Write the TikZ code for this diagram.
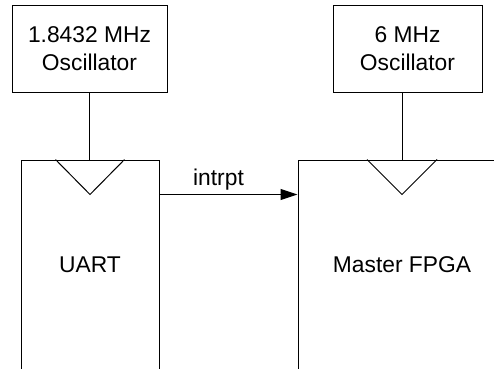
\documentclass[tikz,border=0pt]{standalone}
\usepackage{fontspec}
\setmainfont{Liberation Sans}
\usetikzlibrary{arrows.meta}
\begin{document}
\begin{tikzpicture}[x=1pt,y=-1pt,line width=1pt,
  lbl/.style={font=\fontsize{22.8}{27.4}\selectfont},
  box/.style={lbl,draw,rectangle,inner sep=0pt,align=center}]
\clip(0,0)rectangle(494,368);
%oscillators
\node[box,minimum width=155pt,minimum height=87pt](osca)at(89.5,48.5){1.8432 MHz\\Oscillator};
\node[box,minimum width=149pt,minimum height=87pt](oscb)at(407.5,48.5){6 MHz\\Oscillator};
%chips
\node[box,minimum width=138pt,minimum height=210pt](uart)at(90,265){UART};
\node[box,minimum width=208pt,minimum height=210pt](fpga)at(402,265){Master FPGA};
%clock inputs
\draw([xshift=-34.5pt]uart.north)--++(34.5,35)--++(34.5,-35);
\draw([xshift=-35pt]fpga.north)--++(35,35)--++(35,-35);
\draw(osca.south)--(osca.south|-uart.north);
\draw(fpga.north|-oscb.south)--(fpga.north);
%interrupt
\draw[-{Triangle[length=17pt,width=11pt]}]([yshift=-35pt]uart.north east)--([yshift=-35pt]fpga.north west)
  node[lbl,midway,above,xshift=-10pt]{intrpt};
\end{tikzpicture}
\end{document}
